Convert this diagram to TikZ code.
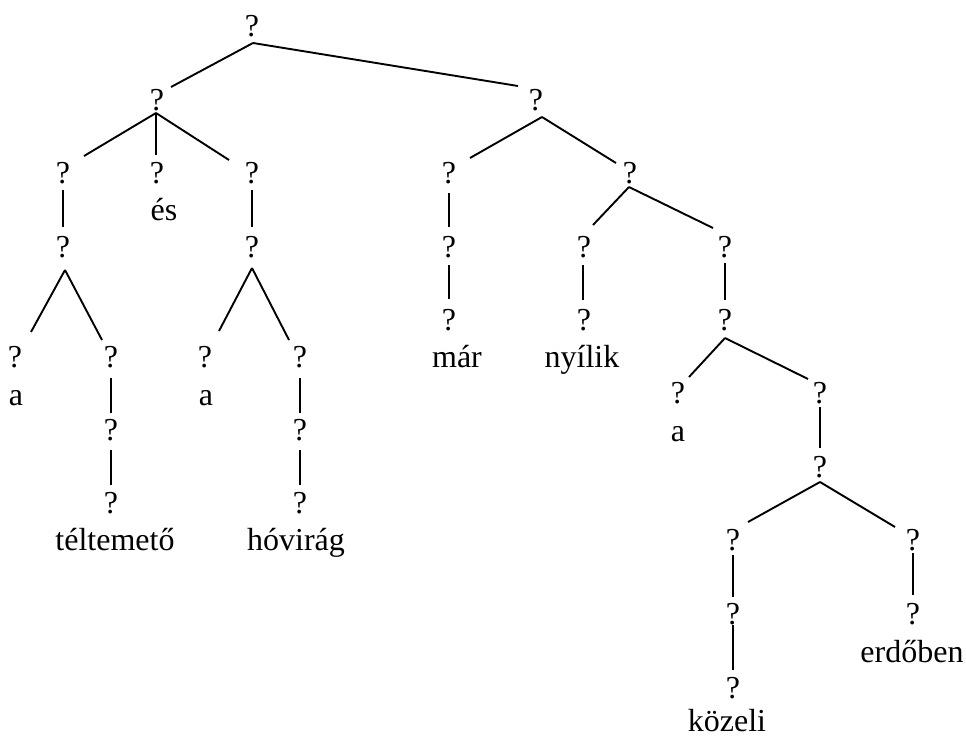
\documentclass[tikz,border=0pt]{standalone}
\usepackage{fontspec}
\setmainfont{Liberation Serif}
\usetikzlibrary{calc}
\tikzset{
  lbl/.style={anchor=base, inner sep=0pt, outer sep=0pt, font=\fontsize{32}{36}\selectfont},
  edge/.style={line width=1.9pt, line cap=butt}
}
\newcommand\edg[4]{\draw[edge] ($(#1.base)+(#2)$) -- ($(#3.base)+(#4)$);}
\begin{document}
\begin{tikzpicture}[x=1pt,y=-1pt]
\useasboundingbox (0,0) rectangle (966,737);
% question-mark nodes
\node[lbl] (root) at (252,36.5) {?};
\node[lbl] (L) at (157,110) {?};
\node[lbl] (R) at (536,110.5) {?};
\node[lbl] (L1) at (63,183) {?};
\node[lbl] (L2) at (157,183) {?};
\node[lbl] (L3) at (252,183) {?};
\node[lbl] (R1) at (449,183) {?};
\node[lbl] (R2) at (630,183) {?};
\node[lbl] (L1a) at (63,257) {?};
\node[lbl] (L3a) at (252,257) {?};
\node[lbl] (R1a) at (449,257) {?};
\node[lbl] (R2a) at (584,257) {?};
\node[lbl] (R2b) at (725,257) {?};
\node[lbl] (R1b) at (449,330) {?};
\node[lbl] (R2a1) at (584,330) {?};
\node[lbl] (R2b1) at (725,330) {?};
\node[lbl] (A1) at (15,367) {?};
\node[lbl] (B1) at (111,367) {?};
\node[lbl] (A2) at (205,367) {?};
\node[lbl] (B2) at (300,367) {?};
\node[lbl] (C1) at (678,403) {?};
\node[lbl] (C2) at (820,403) {?};
\node[lbl] (B1a) at (111,440) {?};
\node[lbl] (B2a) at (300,440) {?};
\node[lbl] (C2a) at (820,477) {?};
\node[lbl] (B1b) at (111,513) {?};
\node[lbl] (B2b) at (300,513) {?};
\node[lbl] (D1) at (733,550) {?};
\node[lbl] (D2) at (913,550) {?};
\node[lbl] (D1a) at (733,624) {?};
\node[lbl] (D2a) at (913,624) {?};
\node[lbl] (D1b) at (733,698) {?};
% words
\node[lbl] (es) at (164,220) {és};
\node[lbl] (wa1) at (16,405) {a};
\node[lbl] (wa2) at (206,405) {a};
\node[lbl] (wtel) at (115,550) {téltemető};
\node[lbl] (whov) at (296,550) {hóvirág};
\node[lbl] (wmar) at (457,367) {már};
\node[lbl] (wnyi) at (582,367) {nyílik};
\node[lbl] (wa3) at (678,441) {a};
\node[lbl] (wkoz) at (727,731) {közeli};
\node[lbl] (werd) at (912,662) {erdőben};
% connectors
\edg{root}{1,6.5}{L}{14,-23}
\edg{root}{1,6.5}{R}{-18,-24.5}
\edg{L}{-1,3}{L1}{21,-27}
\edg{L}{-1,3}{L2}{-1,-28}
\edg{L}{-1,3}{L3}{-23,-23}
\edg{L1}{0,7}{L1a}{0,-30}
\edg{L3}{0,7}{L3a}{0,-30}
\edg{L1a}{2,13}{A1}{16,-35}
\edg{L1a}{2,13}{B1}{-9,-27}
\edg{L3a}{0,11}{A2}{14,-36}
\edg{L3a}{0,11}{B2}{-11,-27}
\edg{B1}{0,11}{B1a}{0,-27}
\edg{B1a}{0,10}{B1b}{0,-28}
\edg{B2}{0,11}{B2a}{0,-27}
\edg{B2a}{0,10}{B2b}{0,-28}
\edg{R}{6,6.5}{R1}{21,-25}
\edg{R}{6,6.5}{R2}{-14,-20}
\edg{R1}{0,10}{R1a}{0,-30}
\edg{R1a}{0,8}{R1b}{0,-31}
\edg{R2}{-1,4}{R2a}{9,-32}
\edg{R2}{-1,4}{R2b}{-12,-29}
\edg{R2a}{-1,8}{R2a1}{-1,-30}
\edg{R2b}{0,6}{R2b1}{0,-30}
\edg{R2b1}{0,8}{C1}{11,-26}
\edg{R2b1}{0,8}{C2}{-12,-24}
\edg{C2}{0,4}{C2a}{0,-29}
\edg{C2a}{0,5}{D1}{15,-28}
\edg{C2a}{0,5}{D2}{-18,-23}
\edg{D1}{0,5}{D1a}{0,-27}
\edg{D1a}{0,1}{D1b}{0,-28}
\edg{D2}{0,3}{D2a}{0,-29}
\end{tikzpicture}
\end{document}
